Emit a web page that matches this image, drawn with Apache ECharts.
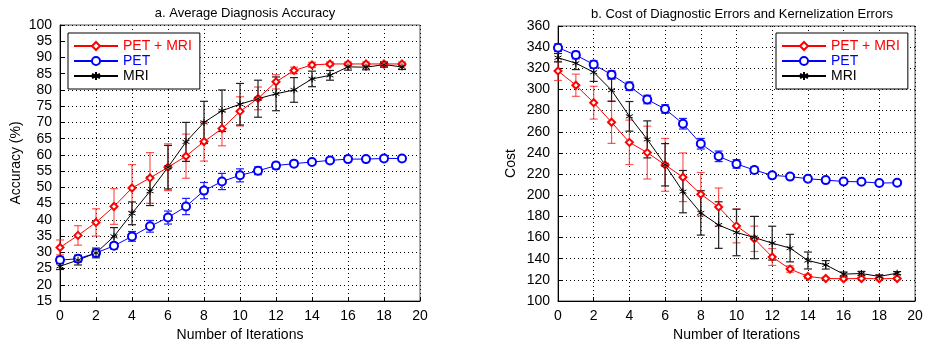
<!DOCTYPE html>
<html>
<head>
<meta charset="utf-8">
<script src="https://cdn.jsdelivr.net/npm/echarts@6/dist/echarts.min.js"></script>
<style>
  html, body { margin: 0; padding: 0; background: #fff; }
  #main { width: 930px; height: 347px; }
</style>
</head>
<body>
<div id="main"></div>
<script>
// iterations 0..19
const iterations = [0,1,2,3,4,5,6,7,8,9,10,11,12,13,14,15,16,17,18,19];

// a. Average Diagnosis Accuracy (%)
const accPetMri    = [31.5, 35.2, 39.2, 44.1, 49.8, 52.9, 56.2, 59.6, 64.1, 68.1, 73.4, 77.4, 82.5, 86, 87.7, 88, 88, 88, 88, 88];
const accPetMriErr = [2.3, 3, 4.2, 5.5, 7.2, 7.8, 7.2, 6.8, 6, 5.3, 4.5, 3.5, 2.2, 1, 0.8, 0.6, 0.6, 0.6, 0.6, 0.6];
const accPet       = [27.6, 28, 29.8, 32, 34.9, 38, 40.7, 44.1, 49, 51.8, 53.7, 55.1, 56.7, 57.3, 57.8, 58.3, 58.7, 58.7, 58.9, 58.9];
const accPetErr    = [1, 1, 1, 1, 1.5, 1.8, 2, 2.5, 2.5, 2.5, 2, 1.2, 1, 0.8, 0.7, 0.6, 0.6, 0.6, 0.6, 0.6];
const accMri       = [25.7, 27.6, 29.8, 34.9, 42, 48.8, 56.2, 64, 70, 73.6, 75.6, 77.3, 78.8, 80, 83.4, 84.5, 87.1, 87, 87.8, 87.1];
const accMriErr    = [1, 1.5, 1.5, 2.7, 3.5, 4.4, 6.7, 6, 6.5, 6.4, 6.4, 5.7, 5.2, 3.8, 2.4, 1.5, 1, 0.8, 0.8, 0.8];

// b. Cost of Diagnostic Errors and Kernelization Errors
const costPetMri    = [317.5, 304, 287.5, 269, 250, 240.3, 228.7, 217, 201, 188.8, 171, 158.8, 141.6, 130.2, 123.2, 121.3, 121, 121.3, 121, 121.3];
const costPetMriErr = [9, 10.5, 15.5, 20, 21, 25, 25, 23, 20.5, 18, 16, 12, 8, 3, 2, 1.2, 1, 1, 1, 1];
const costPet       = [339.5, 332.5, 323.6, 314, 303, 290.5, 281.5, 267.6, 248.7, 236.8, 229.6, 223.8, 218.8, 217.6, 215.6, 214.3, 213, 212.7, 211.5, 211.8];
const costPetErr    = [3.5, 3.5, 3.5, 3.5, 4, 4, 4, 5, 5, 5, 4, 3, 2, 2, 1.5, 1.5, 1.5, 1.5, 1.5, 1.5];
const costMri       = [330, 324.8, 316.3, 299.3, 274.6, 252.8, 228.8, 203.4, 183.3, 171.8, 164.8, 160, 154.7, 150, 138.3, 134.2, 125.4, 126, 123.2, 126.3];
const costMriErr    = [4, 6, 8.7, 10.5, 14, 17.5, 20, 20, 21, 22, 22, 20, 16, 13, 8, 4, 2, 2, 1.5, 1.5];

const names = ['PET + MRI', 'PET', 'MRI'];
const colors = ['#ff0000', '#0000ff', '#000000'];
const errColors = ['rgba(255,30,30,0.75)', '#2020ff', '#202020'];
const starPath = 'path://M5,0L5,10M0.7,2.5L9.3,7.5M0.7,7.5L9.3,2.5';
const symbols = ['emptyDiamond', 'emptyCircle', starPath];
const symSizes = [7, 8, 7];

let myChart = echarts.init(document.getElementById('main'));

function pairs(vals) {
	return iterations.map((x, i) => [x, vals[i]]);
}

function errData(vals, errs) {
	return iterations.map((x, i) => [x, vals[i] - errs[i], vals[i] + errs[i]]);
}

function errSeries(idx, vals, errs, k) {
	return {
		type: 'custom',
		name: names[k] + ' err' + idx,
		xAxisIndex: idx,
		yAxisIndex: idx,
		data: errData(vals, errs),
		z: 3,
		renderItem: function(params, api) {
			const lo = api.coord([api.value(0), api.value(1)]);
			const hi = api.coord([api.value(0), api.value(2)]);
			const w = 4;
			const st = { stroke: errColors[k], lineWidth: 1.2 };
			return {
				type: 'group',
				children: [
					{ type: 'line', shape: { x1: lo[0], y1: lo[1], x2: hi[0], y2: hi[1] }, style: st },
					{ type: 'line', shape: { x1: lo[0] - w, y1: lo[1], x2: lo[0] + w, y2: lo[1] }, style: st },
					{ type: 'line', shape: { x1: hi[0] - w, y1: hi[1], x2: hi[0] + w, y2: hi[1] }, style: st }
				]
			};
		}
	};
}

function lineSeries(idx, vals, k) {
	return {
		type: 'line',
		name: names[k],
		xAxisIndex: idx,
		yAxisIndex: idx,
		data: pairs(vals),
		symbol: symbols[k],
		symbolSize: symSizes[k],
		showAllSymbol: true,
		z: 4,
		lineStyle: { color: colors[k], width: 1 },
		itemStyle: { color: colors[k], borderColor: colors[k], borderWidth: 1 },
		emphasis: { disabled: true }
	};
}

const font = 'Liberation Sans, Arial, sans-serif';

function xAxisCfg(idx) {
	return {
		type: 'value',
		gridIndex: idx,
		min: 0, max: 20, interval: 2,
		name: 'Number of Iterations',
		nameLocation: 'middle',
		nameGap: 27,
		nameTextStyle: { fontFamily: font, fontSize: 14, color: '#000' },
		axisLine: { onZero: false, lineStyle: { color: '#000', width: 1 } },
		axisTick: { inside: true, length: 4, lineStyle: { color: '#000' } },
		axisLabel: { fontFamily: font, fontSize: 14, color: '#000', margin: 8 },
		splitLine: { show: true, lineStyle: { color: '#000', type: [1, 3], width: 1 } }
	};
}

function yAxisCfg(idx, min, max, interval, name, gap) {
	return {
		type: 'value',
		gridIndex: idx,
		min: min, max: max, interval: interval,
		name: name,
		nameLocation: 'middle',
		nameGap: gap,
		nameTextStyle: { fontFamily: font, fontSize: 14, color: '#000' },
		axisLine: { show: true, lineStyle: { color: '#000', width: 1 } },
		axisTick: { inside: true, length: 4, lineStyle: { color: '#000' } },
		axisLabel: { fontFamily: font, fontSize: 14, color: '#000', margin: 8 },
		splitLine: { show: true, lineStyle: { color: '#000', type: [1, 3], width: 1 } }
	};
}

function legendCfg(left) {
	return {
		left: left,
		top: 33,
		orient: 'vertical',
		data: names.map((n, k) => ({ name: n, textStyle: { color: colors[k] } })),
		backgroundColor: '#fff',
		borderColor: '#000',
		borderWidth: 1,
		padding: [6, 8, 6, 5],
		itemGap: 1,
		itemWidth: 44,
		itemHeight: 10,
		selectedMode: false,
		textStyle: { fontFamily: font, fontSize: 14, lineHeight: 14 }
	};
}

let option = {
	animation: false,
	backgroundColor: '#fff',
	title: [
		{ text: 'a. Average Diagnosis Accuracy', left: 240, top: 2, textAlign: 'center',
		  textStyle: { fontFamily: font, fontSize: 13, fontWeight: 'normal', color: '#000' } },
		{ text: 'b. Cost of Diagnostic Errors and Kernelization Errors', left: 737, top: 3, textAlign: 'center',
		  textStyle: { fontFamily: font, fontSize: 13, fontWeight: 'normal', color: '#000' } }
	],
	legend: [legendCfg(68), legendCfg(776)],
	grid: [
		{ left: 60, top: 25, width: 360, height: 276, show: true, borderColor: '#555', borderWidth: 1, backgroundColor: 'transparent' },
		{ left: 558, top: 26, width: 357, height: 275, show: true, borderColor: '#555', borderWidth: 1, backgroundColor: 'transparent' }
	],
	xAxis: [xAxisCfg(0), xAxisCfg(1)],
	yAxis: [
		yAxisCfg(0, 15, 100, 5, 'Accuracy (%)', 37),
		yAxisCfg(1, 100, 360, 20, 'Cost', 40)
	],
	series: [
		errSeries(0, accPetMri, accPetMriErr, 0),
		errSeries(0, accPet, accPetErr, 1),
		errSeries(0, accMri, accMriErr, 2),
		lineSeries(0, accPetMri, 0),
		lineSeries(0, accPet, 1),
		lineSeries(0, accMri, 2),
		errSeries(1, costPetMri, costPetMriErr, 0),
		errSeries(1, costPet, costPetErr, 1),
		errSeries(1, costMri, costMriErr, 2),
		lineSeries(1, costPetMri, 0),
		lineSeries(1, costPet, 1),
		lineSeries(1, costMri, 2)
	]
};

myChart.setOption(option);
</script>
</body>
</html>
